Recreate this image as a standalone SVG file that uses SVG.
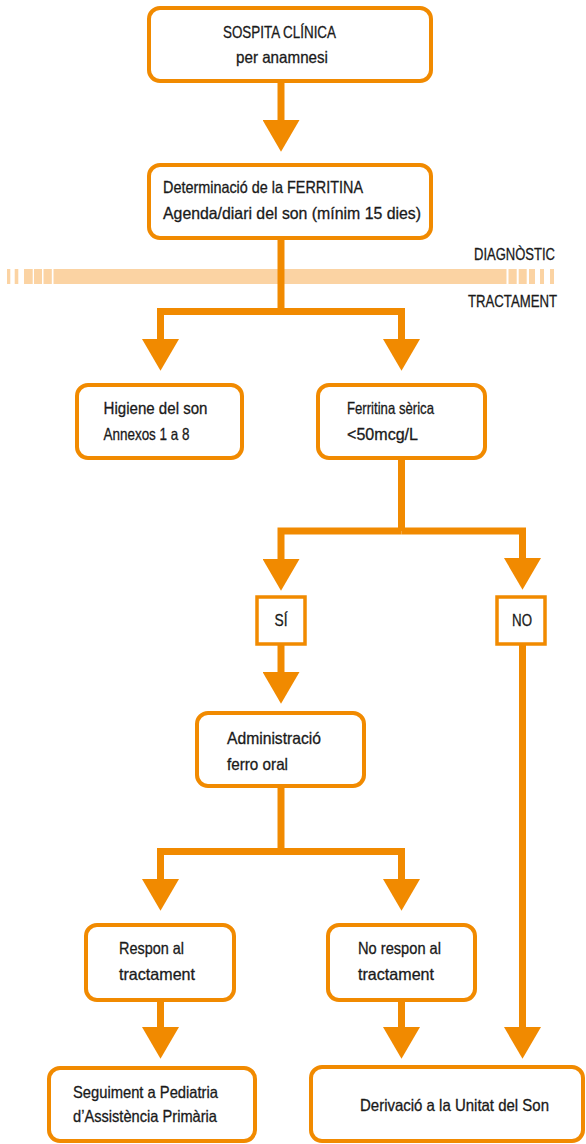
<svg xmlns="http://www.w3.org/2000/svg" xmlns:xlink="http://www.w3.org/1999/xlink" width="586" height="1144" viewBox="0 0 586 1144">
<defs>
<style>
.box{fill:#fff;stroke:#F18A00;stroke-width:4}
.sq{fill:#fff;stroke:#F18A00;stroke-width:3.5}
.c{fill:none;stroke:#F18A00;stroke-width:7;stroke-linejoin:miter;stroke-linecap:butt}
.t{font-family:"Liberation Sans",Arial,sans-serif;font-size:16.5px;fill:#1a1a1a;stroke:#1a1a1a;stroke-width:0.3}
.band{fill:#FBD3A3}
</style>
<marker id="ah" markerUnits="userSpaceOnUse" markerWidth="32" markerHeight="37" viewBox="0 -18 31 36" refX="0" refY="0" orient="auto">
<path d="M0,-18 L31,0 L0,18 Z" fill="#F18A00"/>
</marker>
</defs>
<rect width="586" height="1144" fill="#fff"/>

<g id="band">
<rect class="band" x="53.5" y="269" width="453" height="15"/>
<rect class="band" x="7" y="269" width="3.3" height="15"/>
<rect class="band" x="14.7" y="269" width="3.6" height="15"/>
<rect class="band" x="24" y="269" width="8.7" height="15"/>
<rect class="band" x="34" y="269" width="8" height="15"/>
<rect class="band" x="43.5" y="269" width="8.3" height="15"/>
<rect class="band" x="508.5" y="269" width="8.2" height="15"/>
<rect class="band" x="518.7" y="269" width="8" height="15"/>
<rect class="band" x="529" y="269" width="6" height="15"/>
<rect class="band" x="540" y="269" width="4" height="15"/>
<rect class="band" x="550" y="269" width="4" height="15"/>
<text class="t" x="555" y="260" text-anchor="end" textLength="81" lengthAdjust="spacingAndGlyphs">DIAGNÒSTIC</text>
<text class="t" x="557" y="307" text-anchor="end" textLength="89" lengthAdjust="spacingAndGlyphs">TRACTAMENT</text>
</g>

<g id="connectors">
<path class="c" d="M281,81 V120" marker-end="url(#ah)"/>
<path class="c" d="M281,238 V311.5"/>
<path class="c" d="M281,311.5 H160.5 V339" marker-end="url(#ah)"/>
<path class="c" d="M281,311.5 H401.5 V339" marker-end="url(#ah)"/>
<path class="c" d="M401.5,458 V531"/>
<path class="c" d="M401.5,531 H281 V559" marker-end="url(#ah)"/>
<path class="c" d="M401.5,531 H522.5 V558" marker-end="url(#ah)"/>
<path class="c" d="M281,644 V672" marker-end="url(#ah)"/>
<path class="c" d="M522.5,644 V1027" marker-end="url(#ah)"/>
<path class="c" d="M281,786 V851.5"/>
<path class="c" d="M281,851.5 H160.5 V879" marker-end="url(#ah)"/>
<path class="c" d="M281,851.5 H401.5 V879" marker-end="url(#ah)"/>
<path class="c" d="M160.5,1000 V1027" marker-end="url(#ah)"/>
<path class="c" d="M401.5,1000 V1027" marker-end="url(#ah)"/>
</g>

<g id="sospita">
<rect class="box" x="149" y="8" width="282" height="73" rx="11"/>
<text class="t" x="223" y="38" textLength="113" lengthAdjust="spacingAndGlyphs">SOSPITA CLÍNICA</text>
<text class="t" x="236" y="63" textLength="92" lengthAdjust="spacingAndGlyphs">per anamnesi</text>
</g>

<g id="determinacio">
<rect class="box" x="149" y="165" width="282" height="73" rx="11"/>
<text class="t" x="163" y="193" textLength="200" lengthAdjust="spacingAndGlyphs">Determinació de la FERRITINA</text>
<text class="t" x="163" y="219" textLength="258" lengthAdjust="spacingAndGlyphs">Agenda/diari del son (mínim 15 dies)</text>
</g>

<g id="higiene">
<rect class="box" x="77" y="385" width="165" height="73" rx="11"/>
<text class="t" x="103.5" y="414" textLength="104" lengthAdjust="spacingAndGlyphs">Higiene del son</text>
<text class="t" x="103.5" y="440" textLength="86" lengthAdjust="spacingAndGlyphs">Annexos 1 a 8</text>
</g>

<g id="ferritina">
<rect class="box" x="318" y="385" width="167" height="73" rx="11"/>
<text class="t" x="347" y="414" textLength="87" lengthAdjust="spacingAndGlyphs">Ferritina sèrica</text>
<text class="t" x="347" y="440" textLength="71" lengthAdjust="spacingAndGlyphs">&lt;50mcg/L</text>
</g>

<g id="si">
<rect class="sq" x="257" y="597" width="48" height="47"/>
<text class="t" x="281" y="626" text-anchor="middle" textLength="13" lengthAdjust="spacingAndGlyphs">SÍ</text>
</g>

<g id="no">
<rect class="sq" x="497" y="597" width="48" height="47"/>
<text class="t" x="522" y="626" text-anchor="middle" textLength="20" lengthAdjust="spacingAndGlyphs">NO</text>
</g>

<g id="administracio">
<rect class="box" x="197" y="713" width="167" height="73" rx="11"/>
<text class="t" x="227" y="744" textLength="94" lengthAdjust="spacingAndGlyphs">Administració</text>
<text class="t" x="227" y="770" textLength="61" lengthAdjust="spacingAndGlyphs">ferro oral</text>
</g>

<g id="respon">
<rect class="box" x="86" y="925" width="148" height="75" rx="11"/>
<text class="t" x="119" y="954" textLength="65" lengthAdjust="spacingAndGlyphs">Respon al</text>
<text class="t" x="119" y="980" textLength="76" lengthAdjust="spacingAndGlyphs">tractament</text>
</g>

<g id="norespon">
<rect class="box" x="328" y="925" width="147" height="75" rx="11"/>
<text class="t" x="358" y="954" textLength="83" lengthAdjust="spacingAndGlyphs">No respon al</text>
<text class="t" x="358" y="980" textLength="76" lengthAdjust="spacingAndGlyphs">tractament</text>
</g>

<g id="seguiment">
<rect class="box" x="49" y="1068" width="206" height="73" rx="11"/>
<text class="t" x="73" y="1098" textLength="145" lengthAdjust="spacingAndGlyphs">Seguiment a Pediatria</text>
<text class="t" x="73" y="1122" textLength="144" lengthAdjust="spacingAndGlyphs">d’Assistència Primària</text>
</g>

<g id="derivacio">
<rect class="box" x="311" y="1067" width="272" height="74" rx="11"/>
<text class="t" x="360" y="1111" textLength="189" lengthAdjust="spacingAndGlyphs">Derivació a la Unitat del Son</text>
</g>
</svg>
